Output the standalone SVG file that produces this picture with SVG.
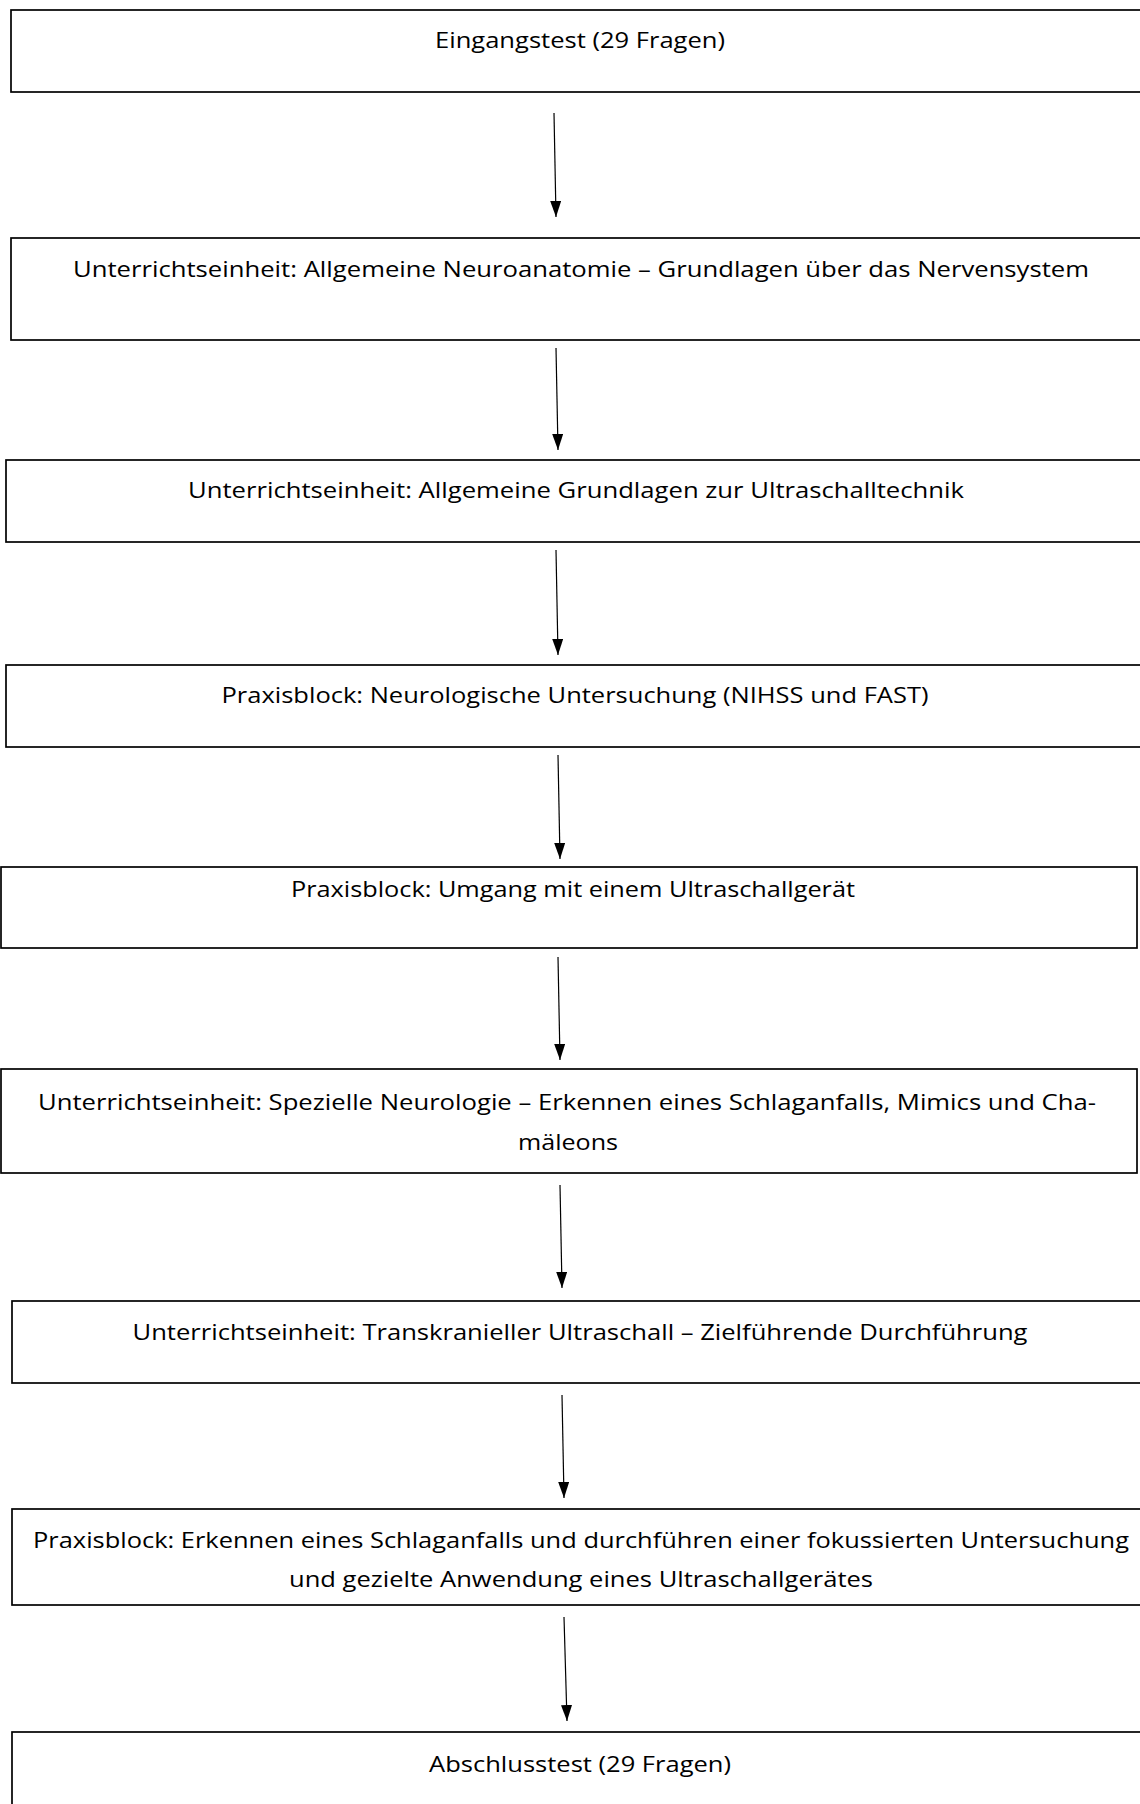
<svg xmlns="http://www.w3.org/2000/svg" width="1140" height="1804" viewBox="0 0 1140 1804">
<style>
.box{fill:#fff;stroke:#000;stroke-width:1.7}
.lbl{font-family:"Open Sans","Liberation Sans",Arial,sans-serif;font-size:22.5px;fill:#000;text-anchor:middle}
.con{stroke:#000;stroke-width:1.2;fill:none;marker-end:url(#ah)}
</style>
<defs>
<marker id="ah" viewBox="0 0 16 11" refX="16" refY="5.5" markerWidth="16" markerHeight="11" markerUnits="userSpaceOnUse" orient="auto">
<path d="M0,0 L16,5.5 L0,11 Z" fill="#000"/>
</marker>
</defs>
<rect width="1140" height="1804" fill="#fff"/>
<g id="n1"><rect class="box" x="11" y="10" width="1160" height="82"/><text class="lbl" x="580" y="48" textLength="290" lengthAdjust="spacingAndGlyphs">Eingangstest (29 Fragen)</text></g>
<g id="n2"><rect class="box" x="11" y="238" width="1160" height="102"/><text class="lbl" x="581" y="277" textLength="1016" lengthAdjust="spacingAndGlyphs">Unterrichtseinheit: Allgemeine Neuroanatomie – Grundlagen über das Nervensystem</text></g>
<g id="n3"><rect class="box" x="6" y="460" width="1160" height="82"/><text class="lbl" x="576" y="498" textLength="776" lengthAdjust="spacingAndGlyphs">Unterrichtseinheit: Allgemeine Grundlagen zur Ultraschalltechnik</text></g>
<g id="n4"><rect class="box" x="6" y="665" width="1160" height="82"/><text class="lbl" x="575" y="703" textLength="707" lengthAdjust="spacingAndGlyphs">Praxisblock: Neurologische Untersuchung (NIHSS und FAST)</text></g>
<g id="n5"><rect class="box" x="1" y="867" width="1136" height="81"/><text class="lbl" x="573" y="897" textLength="564" lengthAdjust="spacingAndGlyphs">Praxisblock: Umgang mit einem Ultraschallgerät</text></g>
<g id="n6"><rect class="box" x="1" y="1069" width="1136" height="104"/><text class="lbl" x="567" y="1110" textLength="1058" lengthAdjust="spacingAndGlyphs">Unterrichtseinheit: Spezielle Neurologie – Erkennen eines Schlaganfalls, Mimics und Cha-</text><text class="lbl" x="568" y="1150" textLength="100" lengthAdjust="spacingAndGlyphs">mäleons</text></g>
<g id="n7"><rect class="box" x="12" y="1301" width="1160" height="82"/><text class="lbl" x="580" y="1340" textLength="895" lengthAdjust="spacingAndGlyphs">Unterrichtseinheit: Transkranieller Ultraschall – Zielführende Durchführung</text></g>
<g id="n8"><rect class="box" x="12" y="1509" width="1160" height="96"/><text class="lbl" x="581" y="1548" textLength="1096" lengthAdjust="spacingAndGlyphs">Praxisblock: Erkennen eines Schlaganfalls und durchführen einer fokussierten Untersuchung</text><text class="lbl" x="581" y="1587" textLength="584" lengthAdjust="spacingAndGlyphs">und gezielte Anwendung eines Ultraschallgerätes</text></g>
<g id="n9"><rect class="box" x="12" y="1732" width="1160" height="100"/><text class="lbl" x="580" y="1772" textLength="302" lengthAdjust="spacingAndGlyphs">Abschlusstest (29 Fragen)</text></g>
<g id="connectors">
<line class="con" x1="554" y1="113" x2="556" y2="217"/>
<line class="con" x1="556" y1="348" x2="558" y2="450"/>
<line class="con" x1="556" y1="550" x2="558" y2="655"/>
<line class="con" x1="558" y1="755" x2="560" y2="859"/>
<line class="con" x1="558" y1="957" x2="560" y2="1060"/>
<line class="con" x1="560" y1="1185" x2="562" y2="1288"/>
<line class="con" x1="562" y1="1395" x2="564" y2="1498"/>
<line class="con" x1="564" y1="1617" x2="567" y2="1721"/>
</g>
</svg>
